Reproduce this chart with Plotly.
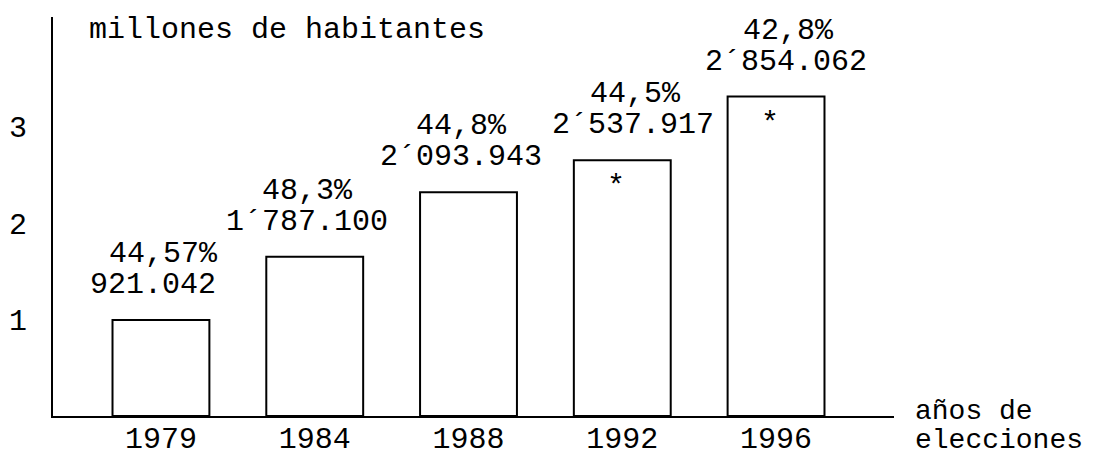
import plotly.graph_objects as go

# ---- data ----
years = ["1979", "1984", "1988", "1992", "1996"]
bar_heights = [0.995, 1.65, 2.32, 2.65, 3.31]          # as drawn, millions
pct_labels = ["44,57%", "48,3%", "44,8%", "44,5%", "42,8%"]
val_labels = ["921.042", "1´787.100", "2´093.943", "2´537.917", "2´854.062"]
asterisk = [False, False, False, True, True]
y_ticks = [1, 2, 3]
y_title = "millones de habitantes"
x_title = ["años de", "elecciones"]

# label horizontal nudges (px) as in the original drawing
pct_dx = [3, -7, -7, 13, 12]
val_dx = [-8, -8, -8, 11, 10]

FONT = "Liberation Mono"
FS = 30
idx = list(range(len(years)))

# the page body has an 8px margin, so the figure is 8px smaller than the window
W, H = 1100, 449

fig = go.Figure()
fig.add_trace(go.Bar(
    x=idx, y=bar_heights, width=0.63,
    marker=dict(color="white", line=dict(color="black", width=2)),
    hoverinfo="skip", showlegend=False,
))

f = dict(family=FONT, size=FS, color="black")
fx = dict(family=FONT, size=28, color="black")
ann = []
for i in idx:
    ann.append(dict(x=i, y=bar_heights[i], xref="x", yref="y", text=val_labels[i],
                    showarrow=False, yshift=35, xshift=val_dx[i], font=f))
    ann.append(dict(x=i, y=bar_heights[i], xref="x", yref="y", text=pct_labels[i],
                    showarrow=False, yshift=66, xshift=pct_dx[i], font=f))
    if asterisk[i]:
        ann.append(dict(x=i, y=bar_heights[i], xref="x", yref="y", text="*",
                        showarrow=False, yshift=-27, xshift=-6, font=f))

ann.append(dict(x=0.0404, y=0.967, xref="paper", yref="paper", text=y_title,
                showarrow=False, xanchor="left", yanchor="middle", font=f))
ann.append(dict(x=1.0226, y=0, xref="paper", yref="paper", text=x_title[0],
                showarrow=False, xanchor="left", yanchor="middle", yshift=5, font=fx))
ann.append(dict(x=1.0226, y=0, xref="paper", yref="paper", text=x_title[1],
                showarrow=False, xanchor="left", yanchor="middle", yshift=-24, font=fx))

fig.update_layout(
    width=W, height=H,
    margin=dict(l=45, r=214, t=9, b=41, autoexpand=False),
    paper_bgcolor="white", plot_bgcolor="white",
    font=f,
    annotations=ann,
    xaxis=dict(
        range=[-0.702, 4.767], tickmode="array", tickvals=idx, ticktext=years,
        showline=True, linecolor="black", linewidth=2, showgrid=False,
        zeroline=False, ticks="", ticklabelstandoff=-6, automargin=False,
    ),
    yaxis=dict(
        range=[0, 4.135], tickmode="array", tickvals=y_ticks,
        ticktext=[str(t) for t in y_ticks],
        showline=True, linecolor="black", linewidth=2, showgrid=False,
        zeroline=False, ticks="", ticklabelstandoff=18, automargin=False,
    ),
)

fig.write_html("out.html")
